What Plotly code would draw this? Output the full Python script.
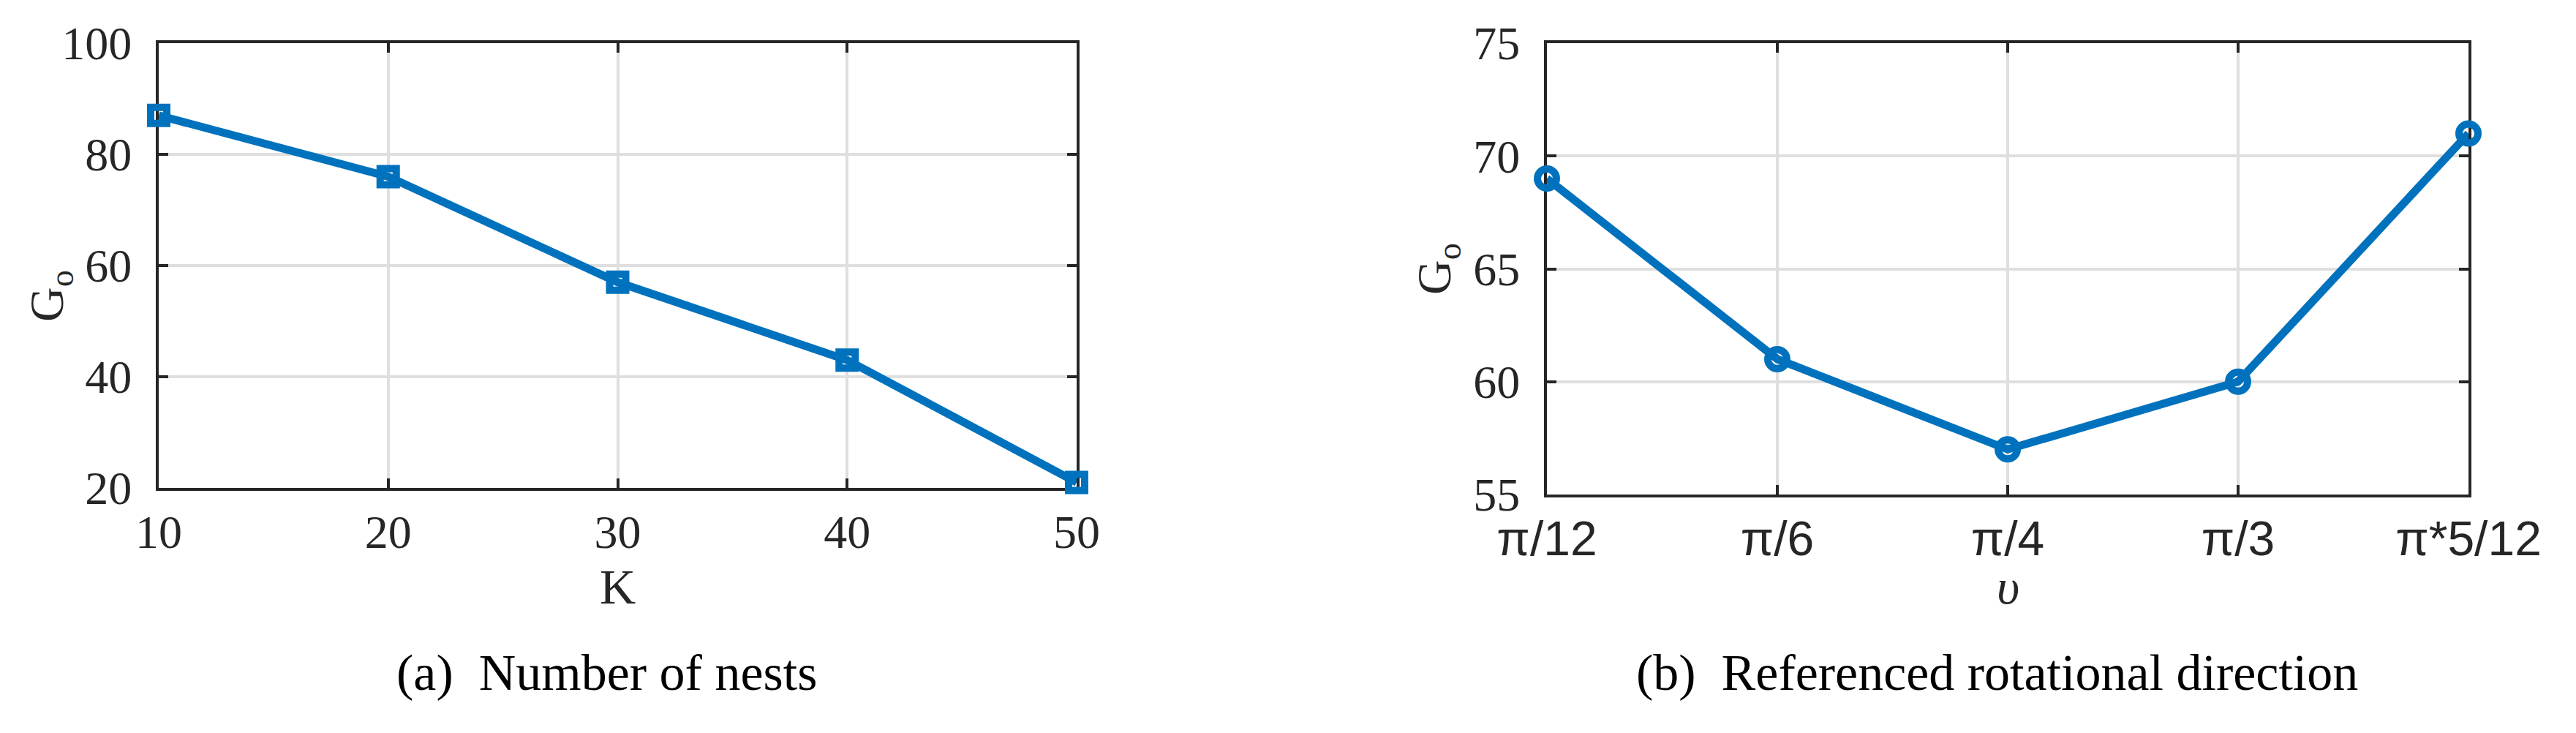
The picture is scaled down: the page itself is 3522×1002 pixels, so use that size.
import plotly.graph_objects as go

# (a) number of nests K against G_o
nest_counts = [10, 20, 30, 40, 50]
nest_go = [87, 76, 57, 43, 21]

# (b) referenced rotational direction (multiples of pi/12) against G_o
direction_steps = [1, 2, 3, 4, 5]
direction_labels = ["π/12", "π/6", "π/4", "π/3", "π*5/12"]
direction_go = [69, 61, 57, 60, 71]

W, H = 3522, 1002
PAGE_PAD = 8  # default body margin of the html page
BLUE = "#0072BD"
INK = "#262626"
GRID = "#dfdfdf"
SERIF = "Liberation Serif, Times New Roman, serif"
SANS = "Liberation Sans, Arial, sans-serif"


def fx(x):
    return (x - PAGE_PAD) / W


def fy(y):
    return 1 - (y - PAGE_PAD) / H


def frame(**kw):
    """
    MATLAB-like boxed axis with inside ticks and light grid.
    """
    base = dict(
        showline=True,
        linecolor=INK,
        linewidth=4,
        mirror="ticks",
        ticks="inside",
        ticklen=13,
        tickwidth=4,
        tickcolor=INK,
        showgrid=True,
        gridcolor=GRID,
        gridwidth=3.5,
        zeroline=False,
        automargin=False,
        layer="below traces",
        fixedrange=True,
    )
    base.update(kw)
    return base


fig = go.Figure()

fig.add_trace(
    go.Scatter(
        x=nest_counts,
        y=nest_go,
        mode="lines+markers",
        line=dict(color=BLUE, width=11),
        marker=dict(symbol="square-open", size=22, color=BLUE,
                    line=dict(width=10, color=BLUE)),
        cliponaxis=False,
        xaxis="x",
        yaxis="y",
    )
)

fig.add_trace(
    go.Scatter(
        x=direction_steps,
        y=direction_go,
        mode="lines+markers",
        line=dict(color=BLUE, width=11),
        marker=dict(symbol="circle-open", size=26, color=BLUE,
                    line=dict(width=10, color=BLUE)),
        cliponaxis=False,
        xaxis="x2",
        yaxis="y2",
    )
)

serif_ticks = dict(family=SERIF, size=64, color=INK)

fig.update_layout(
    width=W,
    height=H,
    margin=dict(l=0, r=0, t=0, b=0, autoexpand=False),
    paper_bgcolor="white",
    plot_bgcolor="white",
    showlegend=False,
    xaxis=frame(
        domain=[fx(217), fx(1472)],
        range=[10, 50],
        tickvals=nest_counts,
        tickfont=serif_ticks,
        ticklabelstandoff=1,
        anchor="y",
    ),
    yaxis=frame(
        domain=[fy(667), fy(59)],
        range=[20, 100],
        tick0=20,
        dtick=20,
        tickfont=serif_ticks,
        ticklabelstandoff=20,
        anchor="x",
    ),
    xaxis2=frame(
        domain=[fx(2115), fx(3375)],
        range=[1, 5],
        tickvals=direction_steps,
        ticktext=direction_labels,
        tickfont=dict(family=SANS, size=66, color=INK),
        ticklabelstandoff=0,
        anchor="y2",
    ),
    yaxis2=frame(
        domain=[fy(676), fy(59)],
        range=[55, 75],
        tick0=55,
        dtick=5,
        tickfont=serif_ticks,
        ticklabelstandoff=20,
        anchor="x2",
    ),
)

notes = [
    # text, x px, y px, size, angle, colour
    ("G<sub>o</sub>", 69, 405, 66, -90, INK),
    ("G<sub>o</sub>", 1966, 368, 66, -90, INK),
    ("K", 844, 802, 68, 0, INK),
    ("<i>υ</i>", 2745, 802, 68, 0, INK),
    ("(a)\u00a0\u00a0Number of nests", 829, 919, 70, 0, "black"),
    ("(b)\u00a0\u00a0Referenced rotational direction", 2730, 919, 70, 0, "black"),
]

for text, x, y, size, angle, color in notes:
    fig.add_annotation(
        text=text,
        x=fx(x),
        y=fy(y),
        xref="paper",
        yref="paper",
        xanchor="center",
        yanchor="middle",
        showarrow=False,
        textangle=angle,
        font=dict(family=SERIF, size=size, color=color),
    )

fig.write_html("out.html")
